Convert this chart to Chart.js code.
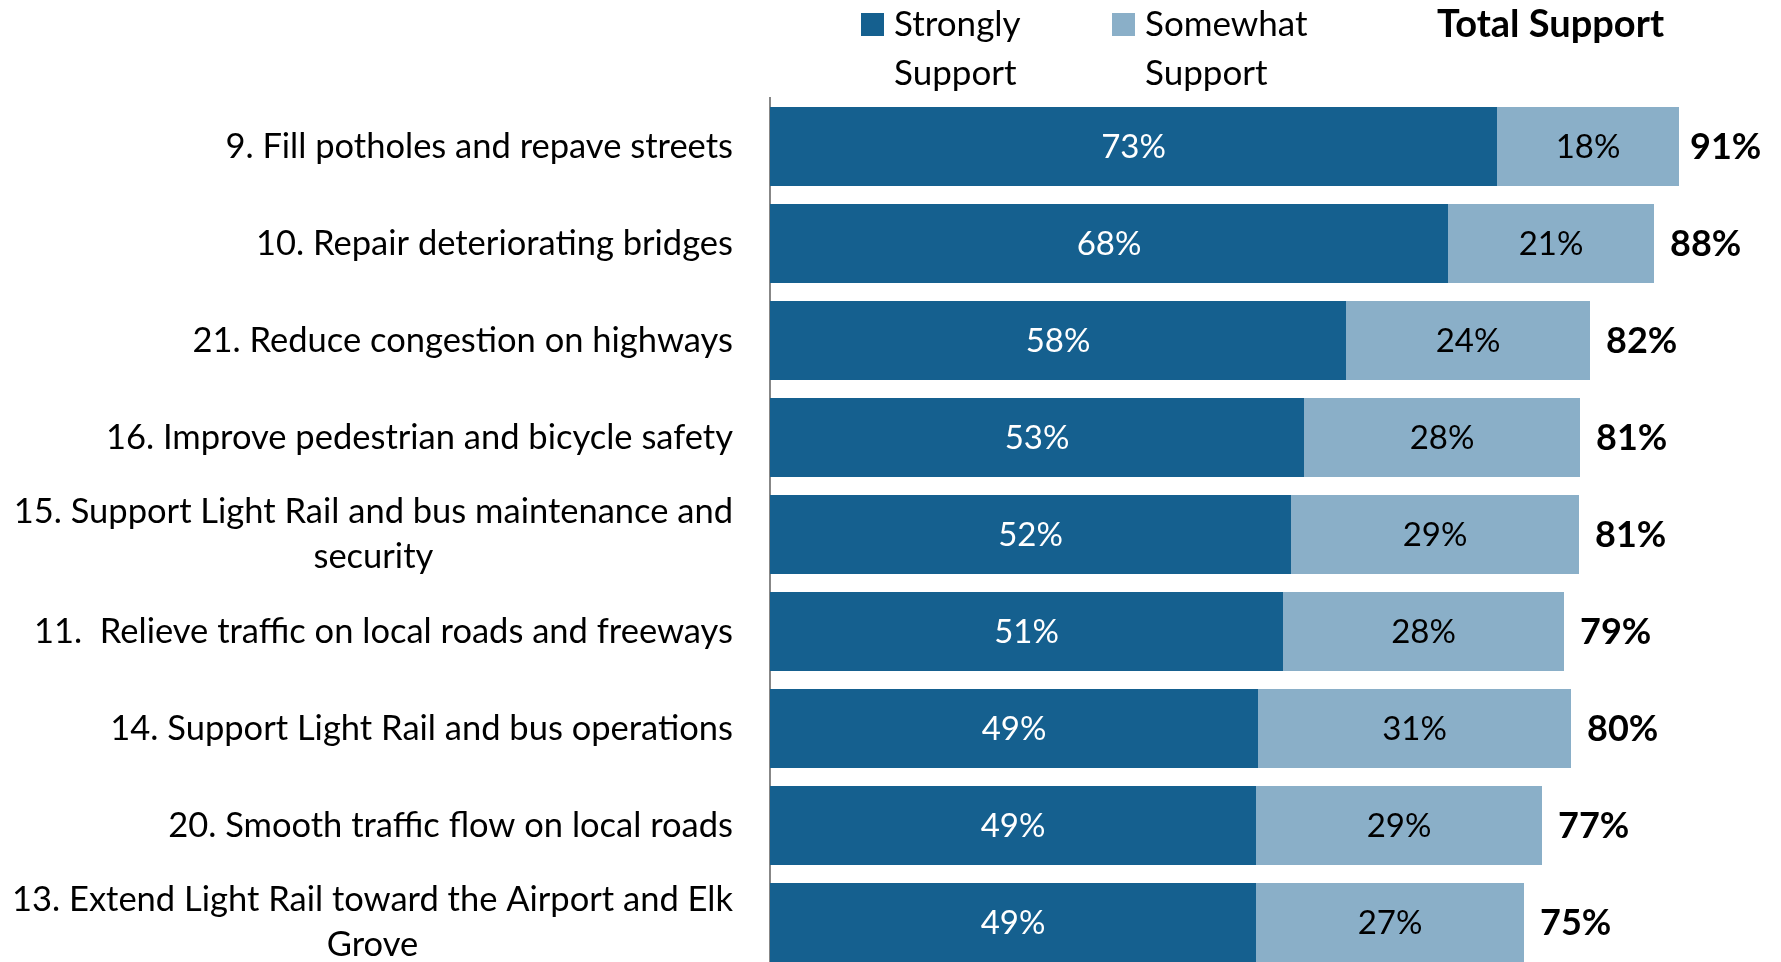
<!DOCTYPE html>
<html lang="en">
<head>
    <meta charset="UTF-8">
    <title>Transportation Priorities - Support</title>
    <script src="https://cdn.jsdelivr.net/npm/chart.js"></script>
    <style>
        html, body {
            margin: 0;
            padding: 0;
            background-color: #ffffff;
            overflow: hidden;
        }
        canvas {
            display: block;
        }
    </style>
</head>
<body>
    <canvas id="supportChart" width="1781" height="980"></canvas>

    <script>
        const categories = [
            '9. Fill potholes and repave streets',
            '10. Repair deteriorating bridges',
            '21. Reduce congestion on highways',
            '16. Improve pedestrian and bicycle safety',
            ['15. Support Light Rail and bus maintenance and', 'security'],
            '11.  Relieve traffic on local roads and freeways',
            '14. Support Light Rail and bus operations',
            '20. Smooth traffic flow on local roads',
            ['13. Extend Light Rail toward the Airport and Elk', 'Grove']
        ];
        const stronglySupport = [72.7, 67.8, 57.6, 53.4, 52.1, 51.3, 48.8, 48.6, 48.6];
        const somewhatSupport = [18.2, 20.6, 24.4, 27.6, 28.8, 28.1, 31.3, 28.6, 26.8];
        const totalSupport = [91, 88, 82, 81, 81, 79, 80, 77, 75];

        const DARK = '#15608f';
        const LIGHT = '#8aafc8';
        const FONT = 'Lato, "Open Sans", sans-serif';

        // draws value labels, category labels and the legend header
        const labelPlugin = {
            id: 'labelPlugin',
            afterDatasetsDraw(chart) {
                const ctx = chart.ctx;
                ctx.save();
                ctx.textBaseline = 'middle';

                // values inside each segment
                ctx.font = '33px ' + FONT;
                ctx.textAlign = 'center';
                chart.data.datasets.forEach((ds, di) => {
                    const meta = chart.getDatasetMeta(di);
                    meta.data.forEach((bar, i) => {
                        ctx.fillStyle = di === 0 ? '#ffffff' : '#000000';
                        ctx.fillText(Math.round(ds.data[i]) + '%', (bar.x + bar.base) / 2, bar.y + 1);
                    });
                });

                // total support at the end of each bar
                ctx.font = 'bold 36px ' + FONT;
                ctx.textAlign = 'left';
                ctx.fillStyle = '#000000';
                chart.getDatasetMeta(1).data.forEach((bar, i) => {
                    ctx.fillText(totalSupport[i] + '%', bar.x + (i === 0 ? 11 : 16), bar.y + 1);
                });

                // category labels (wrapped ones are centred as a block)
                const yScale = chart.scales.y;
                ctx.font = '34.5px ' + FONT;
                ctx.textAlign = 'center';
                categories.forEach((lab, i) => {
                    const lines = Array.isArray(lab) ? lab : [lab];
                    const w = Math.max(...lines.map(l => ctx.measureText(l).width));
                    const cx = 733 - w / 2;
                    const yc = yScale.getPixelForValue(i);
                    lines.forEach((l, k) => {
                        ctx.fillText(l, cx, yc + (k - (lines.length - 1) / 2) * 45);
                    });
                });

                // legend
                ctx.font = '35px ' + FONT;
                ctx.textAlign = 'left';
                ctx.fillStyle = DARK;
                ctx.fillRect(861, 13, 23, 23);
                ctx.fillStyle = LIGHT;
                ctx.fillRect(1112, 13, 23, 23);
                ctx.fillStyle = '#000000';
                ctx.fillText('Strongly', 894, 25);
                ctx.fillText('Support', 894, 74);
                ctx.fillText('Somewhat', 1145, 25);
                ctx.fillText('Support', 1145, 74);
                ctx.font = 'bold 38px ' + FONT;
                ctx.fillText('Total Support', 1437, 25);

                ctx.restore();
            }
        };

        const ctx = document.getElementById('supportChart').getContext('2d');
        const chart = new Chart(ctx, {
            type: 'bar',
            data: {
                labels: categories,
                datasets: [
                    {
                        label: 'Strongly Support',
                        data: stronglySupport,
                        backgroundColor: DARK,
                        barPercentage: 0.815,
                        categoryPercentage: 1
                    },
                    {
                        label: 'Somewhat Support',
                        data: somewhatSupport,
                        backgroundColor: LIGHT,
                        barPercentage: 0.815,
                        categoryPercentage: 1
                    }
                ]
            },
            options: {
                indexAxis: 'y',
                responsive: false,
                animation: false,
                layout: {
                    padding: { left: 770, right: 11, top: 98, bottom: 9 }
                },
                plugins: {
                    legend: { display: false },
                    tooltip: { enabled: false }
                },
                scales: {
                    x: {
                        stacked: true,
                        min: 0,
                        max: 100,
                        display: false
                    },
                    y: {
                        stacked: true,
                        grid: { display: false },
                        ticks: { display: false },
                        border: { color: '#878787', width: 2 },
                        afterFit: s => { s.width = 0; }
                    }
                }
            },
            plugins: [labelPlugin]
        });
    </script>
</body>
</html>
